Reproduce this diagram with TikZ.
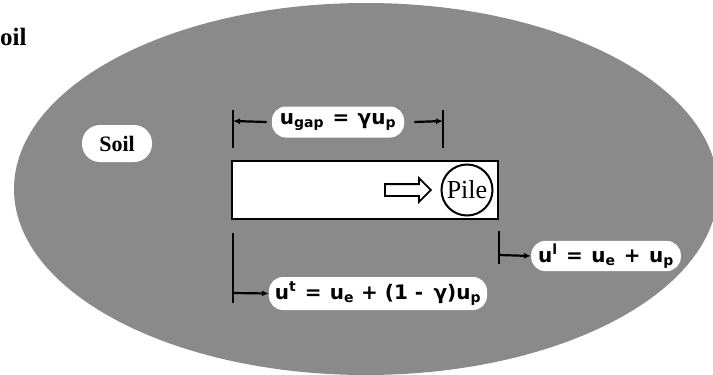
\documentclass[tikz,border=0pt]{standalone}
\usepackage{fontspec}
\setmainfont{Liberation Serif}
\newfontfamily\labelfont{DejaVu Sans}
\usetikzlibrary{arrows.meta,shapes.arrows}
\definecolor{soilgray}{gray}{0.54}
\newcommand{\sep}{\hspace{0.42em}}
\tikzset{
  soilfill/.style={fill=soilgray},
  pill/.style={fill=white, rounded corners=14pt, inner xsep=4pt, inner ysep=3pt},
  eqtext/.style={pill, font=\labelfont\bfseries\fontsize{20}{20}\selectfont},
  dimline/.style={line width=2.2pt},
  dimarrow/.style={line width=2.2pt, -{Latex[length=7pt,width=6pt]}},
  pilebox/.style={draw, fill=white, line width=2.8pt},
}
\begin{document}
\begin{tikzpicture}[x=1pt,y=-1pt]
\useasboundingbox (0,0) rectangle (713,375);
\begin{scope}
  \clip (0,0) rectangle (713,375);
  \fill[soilfill] (366,189) ellipse [x radius=352pt, y radius=186pt];
\end{scope}
% cut-off title
\node[anchor=base west, inner sep=0, font=\bfseries\fontsize{25}{25}\selectfont] (oil) at (0,45) {oil};
% Soil label
\node[pill, minimum width=70pt, minimum height=37pt, rounded corners=18pt, font=\bfseries\fontsize{22}{22}\selectfont] (soil) at (117,143.5) {Soil};
% pile gap box
\node[pilebox, minimum width=266pt, minimum height=58pt, inner sep=0] (box) at (365,190) {};
% pile circle
\node[draw, circle, line width=2pt, minimum size=51pt, inner sep=0, font=\fontsize{26}{26}\selectfont] (pile) at (467,190) {Pile};
% hollow arrow
\node[draw, fill=white, line width=1.8pt, single arrow, single arrow head extend=6pt, minimum height=46pt, inner xsep=0, inner ysep=5pt] (dir) at (405,190) {};
% top dimension u_gap
\coordinate (tl1) at (233,110); \coordinate (tl2) at (233,148);
\coordinate (tr1) at (443,110); \coordinate (tr2) at (443,148);
\draw[dimline] (tl1) -- (tl2);
\draw[dimline] (tr1) -- (tr2);
\node[eqtext, minimum height=31pt, inner xsep=8pt] (gap) at (338,122) {u\textsubscript{gap}\sep=\sep γu\textsubscript{p}};
\coordinate (gl) at (233,121); \coordinate (gr) at (443,121);
\draw[dimarrow] (gap.west) ++(-5,0) -- (gl);
\draw[dimarrow] (gap.east) ++(10,0) -- (gr);
% bottom left dimension u^t
\coordinate (bl1) at (233,233); \coordinate (bl2) at (233,303);
\draw[dimline] (bl1) -- (bl2);
\node[eqtext, minimum height=33pt, inner xsep=6pt] (ut) at (378,293.5) {u\textsuperscript{t}\sep=\sep u\textsubscript{e} + (1 -\, γ)u\textsubscript{p}};
\coordinate (ua) at (233,293);
\draw[dimarrow] (ua) -- (ut.west);
% right dimension u^l
\coordinate (br1) at (499,231); \coordinate (br2) at (499,264);
\draw[dimline] (br1) -- (br2);
\node[eqtext, minimum height=28pt, inner xsep=7pt] (ul) at (606,256) {u\textsuperscript{l}\sep=\sep u\textsubscript{e}\sep+\sep u\textsubscript{p}};
\coordinate (ub) at (499,255);
\draw[dimarrow] (ub) -- (ul.west);
\end{tikzpicture}
\end{document}
